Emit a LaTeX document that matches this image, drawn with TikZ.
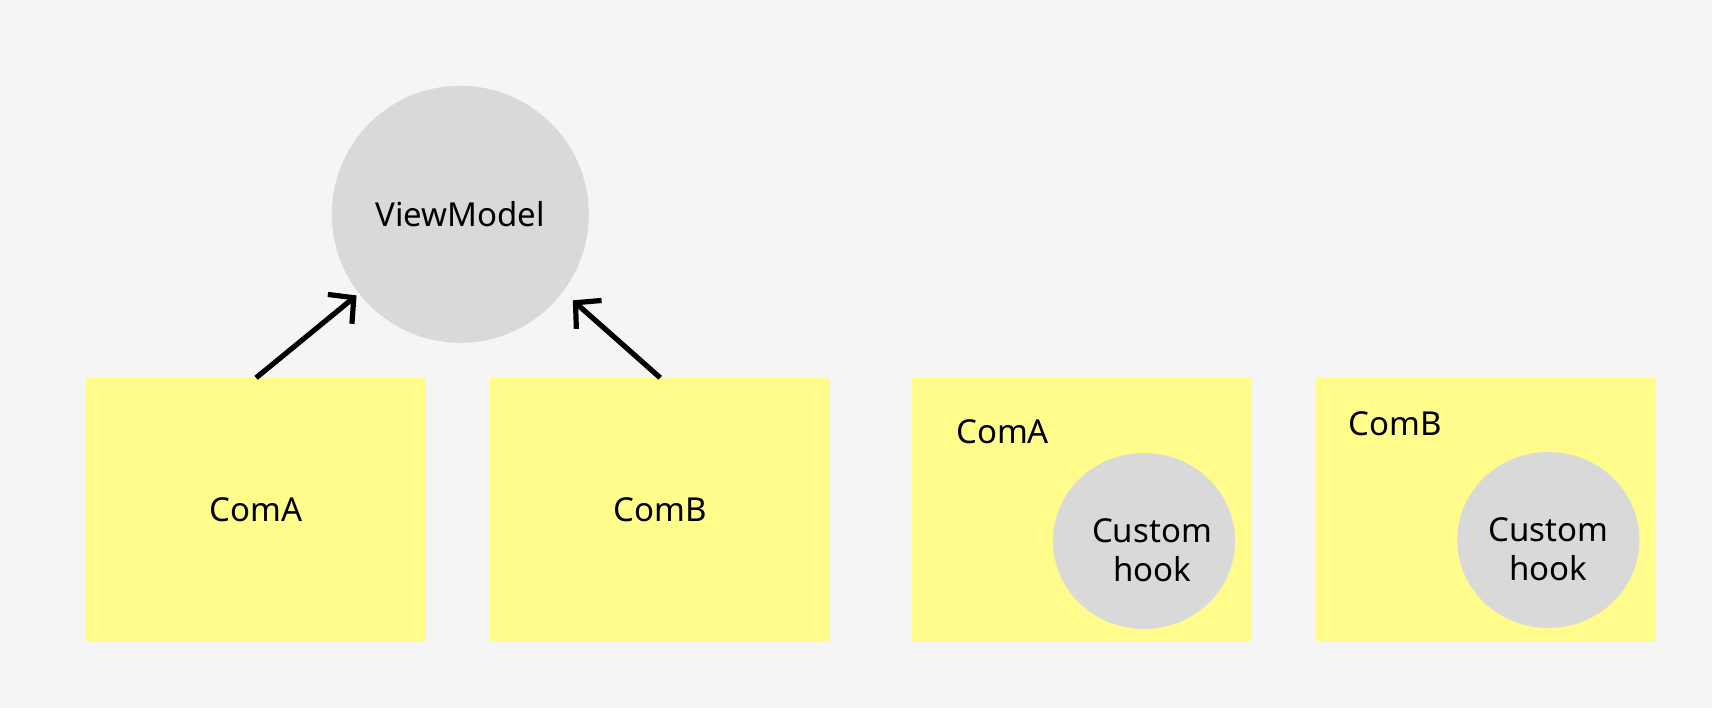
\documentclass[tikz,border=0pt]{standalone}
\usepackage{fontspec}
\setmainfont{Noto Sans}
\usetikzlibrary{arrows.meta,shapes.geometric}
\definecolor{bg}{HTML}{F5F5F5}
\definecolor{sticky}{HTML}{FFFC8C}
\definecolor{bubble}{HTML}{D9D9D9}
\tikzset{
  stickybox/.style={rectangle, fill=sticky, draw=none, minimum width=339.5pt, minimum height=264pt, inner sep=0pt},
  bigbubble/.style={circle, fill=bubble, draw=none, minimum size=257pt, inner sep=0pt},
  hookbubble/.style={ellipse, fill=bubble, draw=none, minimum width=182pt, minimum height=176pt, inner sep=0pt},
  lbl/.style={inner sep=0pt, text=black},
  hooktext/.style={inner sep=0pt, align=center, text=black},
  linkarrow/.style={draw=black, line width=5.2pt, -{Straight Barb[length=18pt, width=38pt]}},
}
\begin{document}
\begin{tikzpicture}[x=1pt, y=-1pt, font=\fontsize{33}{39.3}\selectfont]
  \fill[bg] (0,0) rectangle (1712,708);
  \useasboundingbox (0,0) rectangle (1712,708);

  % left group
  \node[bigbubble] (vm) at (460.3,214.3) {ViewModel};
  \node[stickybox] (ra) at (256.1,510) {ComA};
  \node[stickybox] (rb) at (660.2,510) {ComB};

  \draw[linkarrow, shorten >=3pt] (ra.north) -- (vm.-142);
  \draw[linkarrow, shorten >=13pt] (rb.north) -- (vm.-37);

  % right group
  \node[stickybox] (rc) at (1081.8,510) {};
  \node[lbl, anchor=base west] (rcl) at (956,443.3) {ComA};
  \node[hookbubble] (hc) at (1144,541) {};
  \node[hooktext] (hct) at (1152,550.5) {Custom\\hook};

  \node[stickybox] (rd) at (1485.8,510) {};
  \node[lbl, anchor=base west] (rdl) at (1348.3,435) {ComB};
  \node[hookbubble] (hd) at (1548.3,540) {};
  \node[hooktext] (hdt) at (1548.3,549.5) {Custom\\hook};
\end{tikzpicture}
\end{document}
